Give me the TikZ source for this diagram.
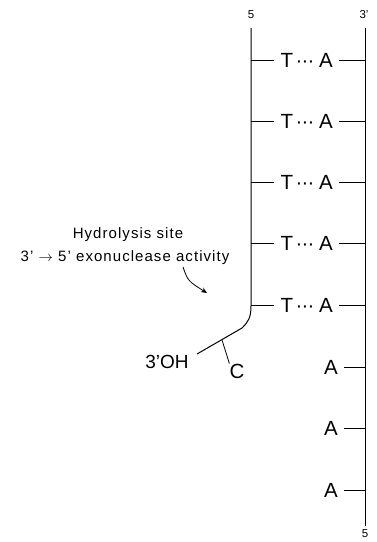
\documentclass[tikz,border=0pt]{standalone}
\usepackage{fontspec}
\setmainfont{Liberation Sans}
\usetikzlibrary{arrows.meta}
\tikzset{
  strand/.style={line width=1pt, black},
  tick/.style={line width=0.8pt, black},
  base/.style={font=\fontsize{20.5}{20.5}\selectfont, inner sep=0pt},
  endlbl/.style={font=\fontsize{11.5}{11.5}\selectfont, inner sep=0pt},
  note/.style={font=\fontsize{15}{15}\selectfont\addfontfeatures{LetterSpace=7}, inner sep=0pt},
}
\begin{document}
\begin{tikzpicture}[x=1pt,y=-1pt]
\useasboundingbox (0,0) rectangle (376,542);
% end labels
\node[endlbl] (l5) at (251,15) {5};
\node[endlbl] (r3) at (364,15) {3'};
\node[endlbl] (r5) at (365,534) {5};
% strands
\coordinate (ltop) at (251,28);
\coordinate (lbend) at (251,306);
\coordinate (lcurve) at (242,328);
\coordinate (lend) at (197,354);
\coordinate (rtop) at (365,28);
\coordinate (rbot) at (365,526);
\draw[strand] (ltop) -- (lbend) .. controls (251,318) and (248,322) .. (lcurve) -- (lend);
\draw[strand] (rtop) -- (rbot);
% paired rows
\foreach \i/\y in {1/60,2/121,3/182,4/243,5/305}{
  \node[base] (T\i) at (287,\y) {T};
  \node[base, anchor=base] (D\i) at ([xshift=18pt]T\i.base) {\textperiodcentered\kern-0.8pt\textperiodcentered\kern-0.8pt\textperiodcentered};
  \node[base] (A\i) at (326,\y) {A};
  \coordinate (lt\i) at (251,\y);
  \coordinate (rt\i) at (365,\y);
  \draw[tick] (lt\i) -- ([xshift=-7pt]T\i.west);
  \draw[tick] ([xshift=6pt]A\i.east) -- (rt\i);
}
% unpaired A rows
\foreach \i/\y in {6/367,7/428,8/490}{
  \node[base] (A\i) at (331,\y) {A};
  \coordinate (rt\i) at (365,\y);
  \draw[tick] ([xshift=6pt]A\i.east) -- (rt\i);
}
% 3'OH end and C branch
\node[base, font=\fontsize{19}{19}\selectfont] (oh) at (167,362) {3'OH};
\coordinate (cb) at (222,340);
\node[base] (C) at (237,371) {C};
\draw[tick] (cb) -- (C.north west);
% annotation
\node[note] (hyd) at (128,235) {Hydrolysis site};
\node[note] (exo) at (125,258) {3' $\rightarrow$ 5' exonuclease activity};
\coordinate (as) at (183,267);
\coordinate (ae) at (207,293);
\draw[tick, -{Stealth[length=6pt,width=5pt]}] (as) .. controls (188,281) .. (ae);
\end{tikzpicture}
\end{document}
